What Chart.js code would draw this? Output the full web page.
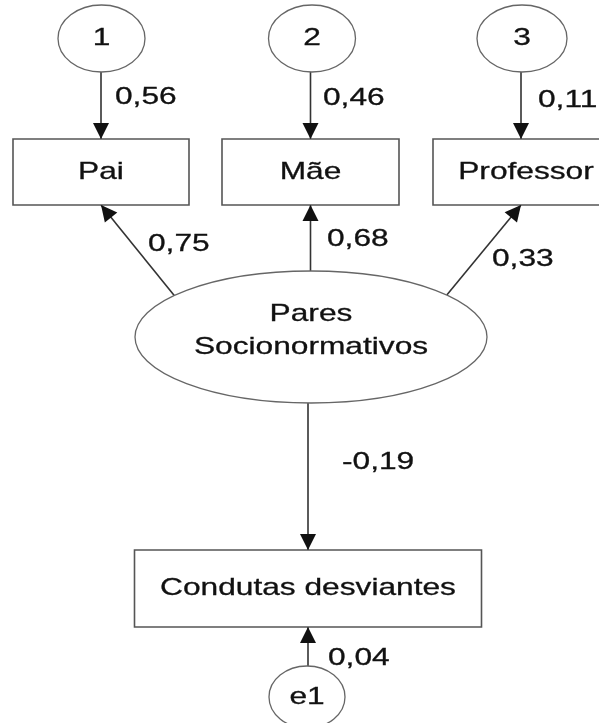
<!DOCTYPE html>
<html>
<head>
<meta charset="utf-8">
<script src="https://cdn.jsdelivr.net/npm/chart.js@4.4.1/dist/chart.umd.min.js"></script>
<style>
  html, body { margin: 0; padding: 0; background: #fff; }
  #wrap { width: 599px; height: 723px; }
</style>
</head>
<body>
<div id="wrap"><canvas id="pathChart" width="599" height="723"></canvas></div>
<script>
// --- data ---
const nodeIds = ['u1', 'u2', 'u3', 'pai', 'mae', 'prof', 'pares', 'cond', 'e1'];
const nodeLabels = ['1', '2', '3', 'Pai', 'Mãe', 'Professor', 'Pares\nSocionormativos', 'Condutas desviantes', 'e1'];
const pathFrom = ['u1', 'u2', 'u3', 'pares', 'pares', 'pares', 'pares', 'e1'];
const pathTo = ['pai', 'mae', 'prof', 'pai', 'mae', 'prof', 'cond', 'cond'];
const pathCoefs = [0.56, 0.46, 0.11, 0.75, 0.68, 0.33, -0.19, 0.04];

// --- layout (diagram space, same units as the hidden axes) ---
const nodeLayout = {
    u1:    { shape: 'ellipse', cx: 101.5, cy: 38.5, rx: 43.5, ry: 33.5 },
    u2:    { shape: 'ellipse', cx: 312, cy: 38.5, rx: 43.5, ry: 33.5 },
    u3:    { shape: 'ellipse', cx: 522, cy: 38.5, rx: 45, ry: 33.5 },
    pai:   { shape: 'box', cx: 101, cy: 172, w: 176, h: 66 },
    mae:   { shape: 'box', cx: 310.5, cy: 172, w: 177, h: 66 },
    prof:  { shape: 'box', cx: 521, cy: 172, w: 176, h: 66, dx: 5 },
    pares: { shape: 'ellipse', cx: 311, cy: 337, rx: 176, ry: 66, lineGap: 33, dy: -6 },
    cond:  { shape: 'box', cx: 308, cy: 588.5, w: 347, h: 77 },
    e1:    { shape: 'ellipse', cx: 307, cy: 697, rx: 38, ry: 31 }
};
// where each path leaves its source / enters its target
const pathAnchors = [
    ['bottom', 'top'], ['bottom', 'top'], ['bottom', 'top'],
    [-141, 'bottom'], ['top', 'bottom'], [-39.5, 'bottom'],
    ['bottom', 'top'], ['top', 'bottom']
];
// left/middle of each coefficient label
const labelPos = [[115, 97], [323, 98], [538, 100], [148, 244], [327, 239], [492, 259], [342, 462], [328, 658]];

const FONT = '24px "Liberation Sans", Arial, sans-serif';
const STRETCH = 1.32;

const fmt = v => v.toFixed(2).replace('.', ',');

// point on a node border
function boxPoint(n, side) {
    return { x: n.cx, y: side === 'top' ? n.cy - n.h / 2 : n.cy + n.h / 2 };
}
function ellipsePoint(n, side, alignX) {
    if (typeof side === 'number') {
        const a = side * Math.PI / 180;
        return { x: n.cx + n.rx * Math.cos(a), y: n.cy + n.ry * Math.sin(a) };
    }
    const x = alignX;
    const k = Math.sqrt(Math.max(0, 1 - Math.pow((x - n.cx) / n.rx, 2)));
    return { x: x, y: side === 'top' ? n.cy - n.ry * k : n.cy + n.ry * k };
}
// target ends are computed first, then the source end lines up with it
function targetPoint(id, side) {
    const n = nodeLayout[id];
    return n.shape === 'box' ? boxPoint(n, side) : ellipsePoint(n, side, n.cx);
}
function sourcePoint(id, side, toward) {
    const n = nodeLayout[id];
    return n.shape === 'box' ? boxPoint(n, side) : ellipsePoint(n, side, toward.x);
}

const edgeDatasets = pathFrom.map((from, i) => {
    const end = targetPoint(pathTo[i], pathAnchors[i][1]);
    const start = sourcePoint(from, pathAnchors[i][0], end);
    return {
        label: from + '->' + pathTo[i],
        data: [start, end],
        showLine: true,
        borderColor: '#333',
        borderWidth: 1.6,
        pointRadius: 0,
        fill: false
    };
});

function stretchedText(ctx, text, x, y, align) {
    ctx.save();
    ctx.translate(x, y);
    ctx.scale(STRETCH, 1);
    ctx.textAlign = align;
    ctx.strokeText(text, 0, 0);
    ctx.fillText(text, 0, 0);
    ctx.restore();
}

const diagramPlugin = {
    id: 'diagram',
    afterDatasetsDraw(chart) {
        const ctx = chart.ctx;
        const xs = chart.scales.x, ys = chart.scales.y;
        const px = v => xs.getPixelForValue(v);
        const py = v => ys.getPixelForValue(v);
        const kx = px(1) - px(0), ky = py(1) - py(0);

        // nodes
        ctx.save();
        ctx.font = FONT;
        ctx.textBaseline = 'middle';
        nodeIds.forEach((id, i) => {
            const n = nodeLayout[id];
            const cx = px(n.cx), cy = py(n.cy);
            ctx.beginPath();
            if (n.shape === 'box') {
                ctx.rect(px(n.cx - n.w / 2), py(n.cy - n.h / 2), n.w * kx, n.h * Math.abs(ky));
                ctx.strokeStyle = '#555';
                ctx.lineWidth = 1.6;
            } else {
                ctx.ellipse(cx, cy, n.rx * kx, n.ry * Math.abs(ky), 0, 0, Math.PI * 2);
                ctx.strokeStyle = '#666';
                ctx.lineWidth = 1.3;
            }
            ctx.fillStyle = '#fff';
            ctx.fill();
            ctx.stroke();

            ctx.fillStyle = '#111';
            ctx.strokeStyle = '#111';
            ctx.lineWidth = 0.3;
            const lines = nodeLabels[i].split('\n');
            const gap = n.lineGap || 0;
            const tx = cx + (n.dx || 0);
            const ty0 = cy + (n.dy || 0) - gap * (lines.length - 1) / 2;
            lines.forEach((t, j) => stretchedText(ctx, t, tx, ty0 + j * gap, 'center'));
        });

        // path coefficients
        pathCoefs.forEach((v, i) => {
            stretchedText(ctx, fmt(v), px(labelPos[i][0]), py(labelPos[i][1]), 'left');
        });
        ctx.restore();

        // arrow heads
        ctx.save();
        ctx.fillStyle = '#111';
        chart.data.datasets.forEach(ds => {
            const a = ds.data[0], b = ds.data[1];
            const x0 = px(a.x), y0 = py(a.y), x1 = px(b.x), y1 = py(b.y);
            const ang = Math.atan2(y1 - y0, x1 - x0);
            const len = 16, half = 8;
            ctx.beginPath();
            ctx.moveTo(x1, y1);
            ctx.lineTo(x1 - len * Math.cos(ang) + half * Math.sin(ang), y1 - len * Math.sin(ang) - half * Math.cos(ang));
            ctx.lineTo(x1 - len * Math.cos(ang) - half * Math.sin(ang), y1 - len * Math.sin(ang) + half * Math.cos(ang));
            ctx.closePath();
            ctx.fill();
        });
        ctx.restore();
    }
};

new Chart(document.getElementById('pathChart'), {
    type: 'scatter',
    data: { datasets: edgeDatasets },
    options: {
        responsive: false,
        devicePixelRatio: 1,
        animation: false,
        events: [],
        layout: { padding: 0 },
        plugins: { legend: { display: false }, tooltip: { enabled: false } },
        scales: {
            x: { type: 'linear', min: 0, max: 599, display: false },
            y: { type: 'linear', min: 0, max: 723, reverse: true, display: false }
        }
    },
    plugins: [diagramPlugin]
});
</script>
</body>
</html>
